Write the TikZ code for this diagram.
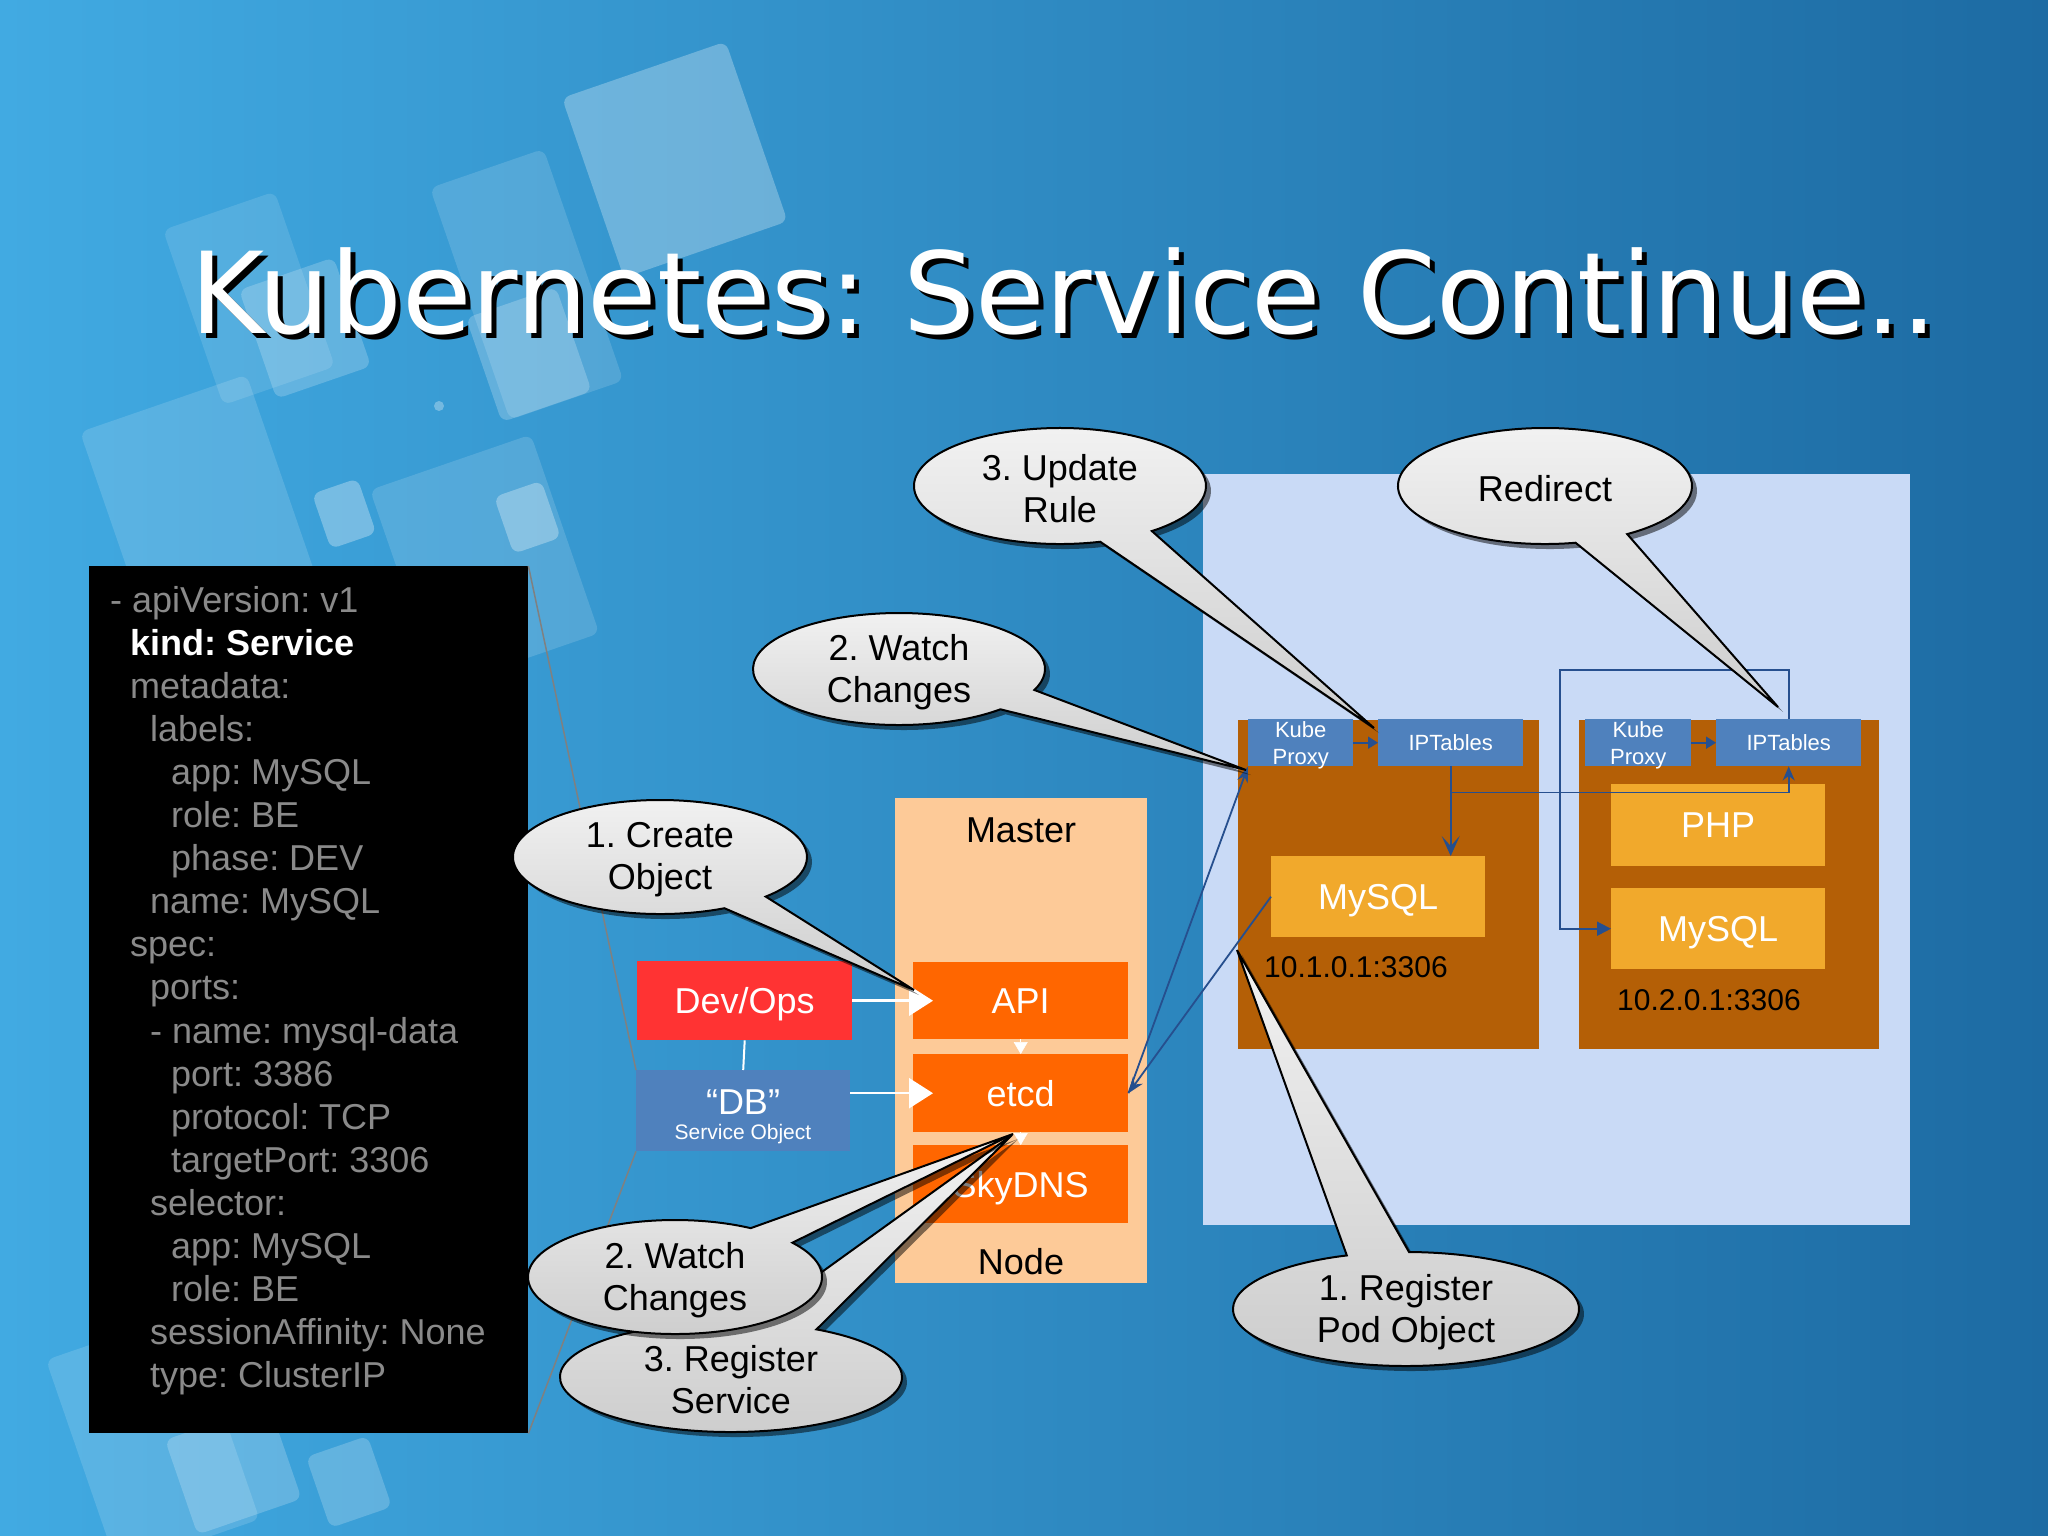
\documentclass[tikz,border=0pt]{standalone}
\usepackage{fontspec}
\setmainfont{Liberation Sans}
\newfontfamily\titlefont{DejaVu Sans}
\usetikzlibrary{arrows.meta,calc}

\definecolor{bgL}{HTML}{41AAE2}
\definecolor{bgR}{HTML}{1D6BA3}
\definecolor{yamlgray}{HTML}{8A8A8A}
\definecolor{peach}{HTML}{FDCA98}
\definecolor{korange}{HTML}{FF6600}
\definecolor{kred}{HTML}{FF3333}
\definecolor{kblue}{HTML}{4F81BD}
\definecolor{nodebg}{HTML}{C9DAF6}
\definecolor{kbrown}{HTML}{B45F06}
\definecolor{kyellow}{HTML}{F1A92C}
\definecolor{darkblue}{HTML}{264F8E}
\definecolor{bubtop}{HTML}{F2F2F2}
\definecolor{bubbot}{HTML}{CDCDCD}

\newcommand\fsz[2]{\fontsize{#1}{#2}\selectfont}

\newcommand\decor[5]{%
  \fill[white, opacity=#5, rounded corners=8pt] (#1,#2) -- ++({#3*0.946},{-#3*0.326}) -- ++({#4*0.326},{#4*0.946}) -- ++({-#3*0.946},{#3*0.326}) -- cycle;}

\newcommand\bubble[9]{%
  \fill[black, opacity=0.5, shift={(5,5)}] ([shift={(#1,#2)}]#5:#3 and #4) arc[start angle=#5, end angle=#6, x radius=#3, y radius=#4] -- #7 -- cycle;
  \draw[line width=2pt, top color=bubtop, bottom color=bubbot] ([shift={(#1,#2)}]#5:#3 and #4) arc[start angle=#5, end angle=#6, x radius=#3, y radius=#4] -- #7 -- cycle;
  \node[bubtext] (#8) at (#1,#2) {#9};}

\begin{document}
\frenchspacing
\begin{tikzpicture}[x=1pt, y=-1pt,
  box/.style={draw=none, inner sep=0pt, anchor=north west, text depth=0pt},
  yaml/.style={anchor=base west, inner sep=0pt, text=yamlgray, font=\fsz{36}{43}},
  bubtext/.style={align=center, inner sep=0pt, text=black, font=\fsz{36}{42}, yshift=-3pt},
  wtext/.style={text=white, font=\fsz{36}{43}, text depth=0pt},
  zoomline/.style={draw=gray, line width=1.5pt},
  warrow/.style={draw=white, line width=2.5pt, -{Triangle[length=24pt,width=30pt]}},
  blueline/.style={draw=darkblue, line width=1.8pt, fill=darkblue}]

\useasboundingbox (0,0) rectangle (2048,1535);
\shade[left color=bgL, right color=bgR] (0,0) rectangle (2048,1535);

% decorative squares
\decor{562}{98}{173}{190}{0.28}
\decor{430}{188}{120}{245}{0.14}
\decor{163}{230}{118}{185}{0.12}
\decor{80}{432}{176}{300}{0.14}
\decor{239}{290}{100}{115}{0.2}
\decor{466}{318}{95}{110}{0.22}
\decor{312}{494}{48}{58}{0.3}
\decor{494}{497}{50}{60}{0.3}
\decor{370}{490}{170}{210}{0.14}
\decor{46}{1360}{150}{220}{0.14}
\decor{165}{1440}{110}{100}{0.2}
\decor{306}{1457}{65}{75}{0.2}
\fill[white, opacity=0.3] (439,406) circle[radius=5];

% title
\node[anchor=base west, inner sep=0pt, text=black, font=\titlefont\fsz{113}{130}] (titlesh) at (195,338) {Kubernetes: Service Continue..};
\node[anchor=base west, inner sep=0pt, text=white, font=\titlefont\fsz{113}{130}] (title) at (190,333) {Kubernetes: Service Continue..};

% yaml box
\node[box, fill=black, minimum width=439pt, minimum height=867pt] (yaml) at (89,566) {};
\node[yaml] (y0) at (110,612) {- apiVersion: v1};
\node[yaml, text=white, font=\bfseries\fsz{36}{43}] (y1) at (130,655.1) {kind: Service};
\foreach \i/\xx/\t in {2/130/{metadata:},3/150/{labels:},4/171/{app: MySQL},5/171/{role: BE},6/171/{phase: DEV},7/150/{name: MySQL},8/130/{spec:},9/150/{ports:},10/150/{- name: mysql-data},11/171/{port: 3386},12/171/{protocol: TCP},13/171/{targetPort: 3306},14/150/{selector:},15/171/{app: MySQL},16/171/{role: BE},17/150/{sessionAffinity: None},18/150/{type: ClusterIP}}
  \node[yaml] (y\i) at (\xx,{612+43.1*\i}) {\t};

% master
\node[box, fill=peach, minimum width=252pt, minimum height=485pt] (master) at (895,798) {};
\node[font=\fsz{36}{43}, inner sep=0pt] (mastert) at (1021,830) {Master};
\node[font=\fsz{36}{43}, inner sep=0pt] (nodet) at (1021,1262) {Node};
\node[box, fill=korange, minimum width=215pt, minimum height=77pt, anchor=north west] (api) at (913,962) {};
\node[wtext] (apit) at (api.center) {API};
\node[box, fill=korange, minimum width=215pt, minimum height=78pt] (etcd) at (913,1054) {};
\node[wtext] (etcdt) at (etcd.center) {etcd};
\node[box, fill=korange, minimum width=215pt, minimum height=78pt] (skydns) at (913,1145) {};
\node[wtext] (skydnst) at (skydns.center) {SkyDNS};

\node[box, fill=kred, minimum width=215pt, minimum height=79pt] (devops) at (637,961) {};
\node[wtext] (devopst) at (devops.center) {Dev/Ops};
\node[box, fill=kblue, minimum width=214pt, minimum height=81pt] (db) at (636,1070) {};
\node[wtext, inner sep=0pt] (dbt) at (743,1102) {“DB”};
\node[text=white, font=\fsz{21}{24}, inner sep=0pt] (dbt2) at (743,1134) {Service Object};

\draw[zoomline] (yaml.north east) -- (db.north west);
\draw[zoomline] (yaml.south east) -- (db.south west);

\draw[white, line width=2pt] (devops.south) -- (db.north);
\draw[warrow] (devops.east) -- ($(api.west)+(20,0)$);
\draw[warrow] (db.east |- etcd.west) -- ($(etcd.west)+(20,0)$);
\draw[white, line width=0.5pt, -{Triangle[length=12pt,width=14pt]}] (api.south) -- (etcd.north);
\draw[white, line width=0.5pt, -{Triangle[length=12pt,width=14pt]}] (etcd.south) -- (skydns.north);

% nodes area
\node[box, fill=nodebg, minimum width=707pt, minimum height=751pt] (nodearea) at (1203,474) {};
\node[box, fill=kbrown, minimum width=301pt, minimum height=329pt] (n1) at (1238,720) {};
\node[box, fill=kbrown, minimum width=300pt, minimum height=329pt] (n2) at (1579,720) {};
\node[box, fill=kblue, minimum width=105pt, minimum height=47pt, anchor=north west, align=center, text=white, font=\fsz{22}{27}] (kp1) at (1248,719) {Kube\\Proxy};
\node[box, fill=kblue, minimum width=145pt, minimum height=47pt, text=white, font=\fsz{22}{26}] (ipt1) at (1378,719) {IPTables};
\node[box, fill=kblue, minimum width=106pt, minimum height=47pt, align=center, text=white, font=\fsz{22}{27}] (kp2) at (1585,719) {Kube\\Proxy};
\node[box, fill=kblue, minimum width=145pt, minimum height=47pt, text=white, font=\fsz{22}{26}] (ipt2) at (1716,719) {IPTables};
\node[box, fill=kyellow, minimum width=214pt, minimum height=81pt, text=white, font=\fsz{36}{43}] (mysql1) at (1271,856) {MySQL};
\node[box, fill=kyellow, minimum width=214pt, minimum height=82pt, text=white, font=\fsz{36}{43}] (php) at (1611,784) {PHP};
\node[box, fill=kyellow, minimum width=214pt, minimum height=81pt, text=white, font=\fsz{36}{43}] (mysql2) at (1611,888) {MySQL};
\node[anchor=base west, inner sep=0pt, font=\fsz{30}{36}] (ip1) at (1264,977) {10.1.0.1:3306};
\node[anchor=base west, inner sep=0pt, font=\fsz{30}{36}] (ip2) at (1617,1010) {10.2.0.1:3306};

\coordinate (br) at ($(ipt1.south)+(0,26)$);
\coordinate (rd) at ($(ipt2.north)+(-229,-49)$);
\draw[blueline, -{Triangle[length=10pt,width=12pt]}] (kp1.east) -- (ipt1.west);
\draw[blueline, -{Triangle[length=10pt,width=12pt]}] (kp2.east) -- (ipt2.west);
\draw[blueline, -{Stealth[length=20pt,width=18pt,inset=10pt]}] (ipt1.south) -- (ipt1.south |- mysql1.north);
\draw[blueline, fill=none, -{Stealth[length=14pt,width=12pt]}] (br) -| (ipt2.south);
\draw[blueline, fill=none, -{Triangle[length=14pt,width=14pt]}] (ipt2.north) |- (rd) |- (mysql2.west);
\draw[blueline, -{Stealth[length=16pt,width=12pt]}] (mysql1.west) -- (etcd.east);
\draw[blueline, -{Stealth[length=16pt,width=11pt]}] (etcd.east) -- (kp1.south west);

% callouts
\bubble{731}{1377}{171}{55}{300}{637}{(1012,1135)}{bsvc}{3. Register\\Service}
\bubble{675}{1277}{147}{57}{323}{661}{(1013,1134)}{bwatchb}{2. Watch\\Changes}
\bubble{660}{857}{147}{57}{64}{404}{(914,990)}{bcreate}{1. Create\\Object}
\bubble{899}{669}{146}{56}{46}{382}{(1246,770)}{bwatcha}{2. Watch\\Changes}
\bubble{1060}{486}{146}{58}{74}{411}{(1374,728)}{bupdate}{3. Update\\Rule}
\bubble{1545}{486}{147}{58}{78}{416}{(1778,707)}{bredir}{Redirect}
\bubble{1406}{1309}{173}{57}{271}{610}{(1237,950)}{bpod}{1. Register\\Pod Object}

\end{tikzpicture}
\end{document}
